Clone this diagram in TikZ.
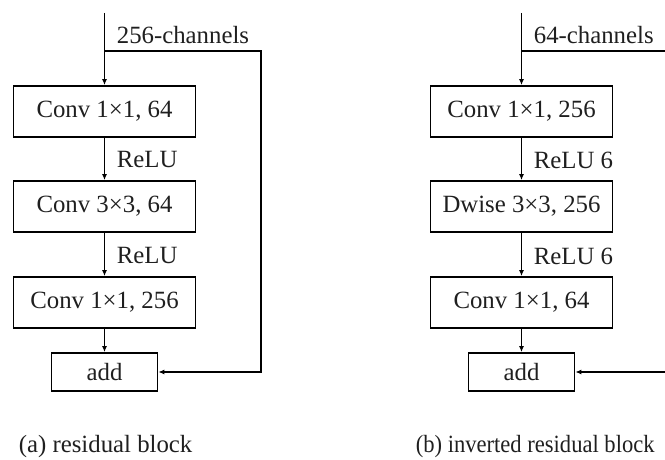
\documentclass[tikz,border=0pt]{standalone}
\usepackage{fontspec}
\setmainfont{Liberation Serif}
\usetikzlibrary{arrows.meta}
\begin{document}
\begin{tikzpicture}[x=1pt,y=-1pt,
  line width=1.7pt,
  txt/.style={font=\fontsize{24.8}{29}\selectfont, text=black!88},
  layer/.style={txt, draw, rectangle, minimum width=182pt, minimum height=51pt, inner sep=0pt},
  addbox/.style={txt, draw, rectangle, minimum width=106pt, minimum height=38pt, inner sep=0pt},
  lbl/.style={txt, anchor=west, inner sep=0pt},
  flow/.style={-{Latex[length=6pt,width=5pt]}}]
\useasboundingbox (0,0) rectangle (665,460);

% (a) residual block
\node[layer]  (a1) at (104.5,111.5) {Conv 1×1, 64};
\node[layer]  (a2) at (104.5,206.5) {Conv 3×3, 64};
\node[layer]  (a3) at (104.5,302.5) {Conv 1×1, 256};
\node[addbox] (aadd) at (104.5,372) {add};
\coordinate (ain) at (104.5,13);
\coordinate (asplit) at (104.5,51);
\coordinate (acorner) at (261,51);
\draw[flow] (ain) -- (a1);
\draw[flow] (a1) -- (a2);
\draw[flow] (a2) -- (a3);
\draw[flow] (a3) -- (aadd);
\draw[flow] (asplit) -- (acorner) |- (aadd.east);
\node[lbl] (ach) at (116,35) {256-channels};
\node[lbl] (ar1) at (116,160) {ReLU};
\node[lbl] (ar2) at (116,256) {ReLU};
\node[lbl] (acap) at (18,446.5) {(a) residual block};

% (b) inverted residual block
\node[layer]  (b1) at (521.5,111.5) {Conv 1×1, 256};
\node[layer]  (b2) at (521.5,206.5) {Dwise 3×3, 256};
\node[layer]  (b3) at (521.5,302.5) {Conv 1×1, 64};
\node[addbox] (badd) at (521.5,372) {add};
\coordinate (bin) at (521.5,13);
\coordinate (bsplit) at (521.5,51);
\coordinate (bout) at (665,51);
\coordinate (bback) at (665,372);
\draw[flow] (bin) -- (b1);
\draw[flow] (b1) -- (b2);
\draw[flow] (b2) -- (b3);
\draw[flow] (b3) -- (badd);
\draw (bsplit) -- (bout);
\draw[flow] (bback) -- (badd.east);
\node[lbl] (bch) at (533,35) {64-channels};
\node[lbl] (br1) at (533,160) {ReLU 6};
\node[lbl] (br2) at (533,256) {ReLU 6};
\node[lbl] (bcap) at (415,446.5) {\scalebox{0.91}[1]{(b) inverted residual block}};
\end{tikzpicture}
\end{document}
